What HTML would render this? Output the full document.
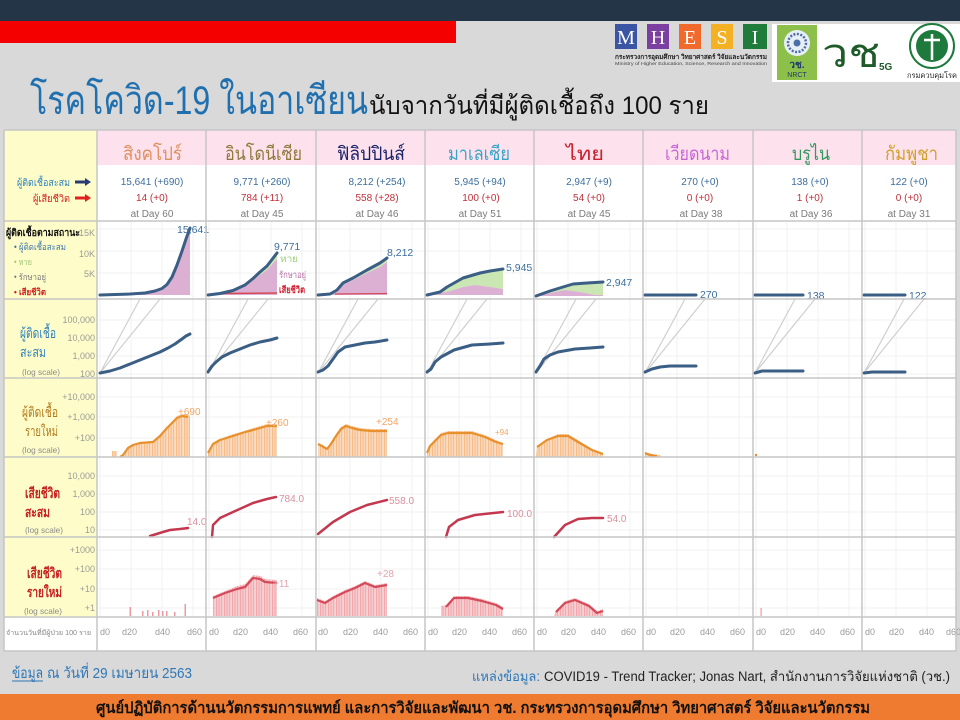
<!DOCTYPE html>
<html><head><meta charset="utf-8"><style>
html,body{margin:0;padding:0;width:960px;height:720px;overflow:hidden;background:#d9d9d9}
svg{display:block}
text{font-family:"Liberation Sans","DejaVu Sans",sans-serif}
</style></head><body>
<svg width="960" height="720" viewBox="0 0 960 720" xmlns="http://www.w3.org/2000/svg">
<defs>
<pattern id="ob" x="0" y="0" width="1.6" height="20" patternUnits="userSpaceOnUse"><rect width="1.15" height="20" fill="#f6bb86"/></pattern>
<pattern id="pb" x="0" y="0" width="1.6" height="20" patternUnits="userSpaceOnUse"><rect width="1.15" height="20" fill="#f1a5aa"/></pattern>
</defs>
<rect width="960" height="720" fill="#d9d9d9"/>
<rect width="960" height="21" fill="#243548"/>
<rect y="21" width="456" height="22" fill="#f50000"/>

<!-- MHESI logo -->
<rect x="615" y="24" width="22" height="25" fill="#3b55a5"/>
<rect x="647" y="24" width="22" height="25" fill="#7b3fa1"/>
<rect x="679" y="24" width="22" height="25" fill="#f26a2b"/>
<rect x="711" y="24" width="22" height="25" fill="#f4b124"/>
<rect x="743" y="24" width="24" height="25" fill="#1f7c3b"/>
<g fill="#fff" font-size="20" text-anchor="middle">
<text x="626" y="44" style="font-family:'Liberation Serif',serif">M</text>
<text x="658" y="44" style="font-family:'Liberation Serif',serif">H</text>
<text x="690" y="44" style="font-family:'Liberation Serif',serif">E</text>
<text x="722" y="44" style="font-family:'Liberation Serif',serif">S</text>
<text x="755" y="44" style="font-family:'Liberation Serif',serif">I</text>
</g>
<text x="615" y="59" font-size="6.5" font-weight="bold" fill="#222" textLength="152" lengthAdjust="spacingAndGlyphs">กระทรวงการอุดมศึกษา วิทยาศาสตร์ วิจัยและนวัตกรรม</text>
<text x="615" y="65" font-size="4.5" fill="#444" textLength="152" lengthAdjust="spacingAndGlyphs">Ministry of Higher Education, Science, Research and Innovation</text>

<rect x="772" y="24" width="188" height="58" fill="#fff"/>
<rect x="777" y="25" width="40" height="55" fill="#8cc04b"/>
<circle cx="797" cy="43" r="13" fill="#e8eef5"/>
<circle cx="797" cy="43" r="9" fill="none" stroke="#4a6ea8" stroke-width="2.5" stroke-dasharray="2 1.5"/>
<circle cx="797" cy="43" r="3.5" fill="#4a6ea8"/>
<text x="797" y="68" font-size="10" font-weight="bold" fill="#1d3b6b" text-anchor="middle">วช.</text>
<text x="797" y="77" font-size="7" fill="#1d3b6b" text-anchor="middle">NRCT</text>
<text x="822" y="67" font-size="40" fill="#1f5a2a" textLength="58" lengthAdjust="spacingAndGlyphs">วช</text>
<text x="879" y="70" font-size="10" font-weight="bold" fill="#1f5a2a">5G</text>
<circle cx="932" cy="46" r="22" fill="#fff" stroke="#1d7a3c" stroke-width="2"/>
<circle cx="932" cy="46" r="16" fill="#1d7a3c"/>
<path d="M932,34 L932,60 M924,40 L940,40" stroke="#fff" stroke-width="2.5"/>
<text x="932" y="78" font-size="7.5" fill="#222" text-anchor="middle" textLength="50" lengthAdjust="spacingAndGlyphs">กรมควบคุมโรค</text>

<!-- Title -->
<text x="30" y="114" font-size="40" fill="#2070b0" textLength="338" lengthAdjust="spacingAndGlyphs">โรคโควิด-19 ในอาเซียน</text>
<text x="369" y="114" font-size="25" fill="#111" textLength="340" lengthAdjust="spacingAndGlyphs">นับจากวันที่มีผู้ติดเชื้อถึง 100 ราย</text>

<!-- Table backgrounds -->
<rect x="4" y="130" width="952" height="521" fill="#fff"/>
<rect x="4" y="130" width="93" height="487" fill="#fefdc9"/>
<rect x="97" y="130" width="859" height="35" fill="#fde1ed"/>

<!-- faint grid -->
<g stroke="#ededed" stroke-width="0.8">
<path d="M100,221V617M131,221V617M162,221V617M193,221V617
M209,221V617M240,221V617M271,221V617M302,221V617
M319,221V617M350,221V617M381,221V617M412,221V617
M428,221V617M459,221V617M490,221V617M521,221V617
M537,221V617M568,221V617M599,221V617M630,221V617
M646,221V617M677,221V617M708,221V617M739,221V617
M756,221V617M787,221V617M818,221V617M849,221V617
M865,221V617M896,221V617M927,221V617"/>
<path d="M97,229H956M97,251H956M97,273H956M97,320H956M97,338H956M97,356H956M97,374H956M97,397H956M97,417H956M97,438H956M97,476H956M97,494H956M97,512H956M97,530H956M97,550H956M97,569H956M97,589H956M97,608H956"/>
</g>

<!-- Country headers -->
<g font-size="19" text-anchor="middle">
<text x="152.5" y="160" fill="#e0905e" textLength="59" lengthAdjust="spacingAndGlyphs">สิงคโปร์</text>
<text x="263.5" y="160" fill="#8c7a3c" textLength="77" lengthAdjust="spacingAndGlyphs">อินโดนีเซีย</text>
<text x="371" y="160" fill="#1c2468" textLength="68" lengthAdjust="spacingAndGlyphs">ฟิลิปปินส์</text>
<text x="479" y="160" fill="#36a6c8" textLength="62" lengthAdjust="spacingAndGlyphs">มาเลเซีย</text>
<text x="585" y="160" fill="#c8202c" textLength="38" lengthAdjust="spacingAndGlyphs">ไทย</text>
<text x="697.5" y="160" fill="#c866d8" textLength="65" lengthAdjust="spacingAndGlyphs">เวียดนาม</text>
<text x="811" y="160" fill="#2e9a5e" textLength="38" lengthAdjust="spacingAndGlyphs">บรูไน</text>
<text x="911.5" y="160" fill="#d0a22a" textLength="53" lengthAdjust="spacingAndGlyphs">กัมพูชา</text>
</g>

<!-- data rows -->
<g font-size="10" text-anchor="middle">
<g fill="#3c6e9c">
<text x="152" y="185">15,641 (+690)</text>
<text x="262" y="185">9,771 (+260)</text>
<text x="377" y="185">8,212 (+254)</text>
<text x="480" y="185">5,945 (+94)</text>
<text x="589" y="185">2,947 (+9)</text>
<text x="700" y="185">270 (+0)</text>
<text x="810" y="185">138 (+0)</text>
<text x="909" y="185">122 (+0)</text>
</g>
<g fill="#c0303a">
<text x="152" y="201">14 (+0)</text>
<text x="262" y="201">784 (+11)</text>
<text x="377" y="201">558 (+28)</text>
<text x="481" y="201">100 (+0)</text>
<text x="589" y="201">54 (+0)</text>
<text x="700" y="201">0 (+0)</text>
<text x="810" y="201">1 (+0)</text>
<text x="909" y="201">0 (+0)</text>
</g>
<g fill="#7a7a7a">
<text x="152" y="217">at Day 60</text>
<text x="262" y="217">at Day 45</text>
<text x="377" y="217">at Day 46</text>
<text x="480" y="217">at Day 51</text>
<text x="589" y="217">at Day 45</text>
<text x="701" y="217">at Day 38</text>
<text x="811" y="217">at Day 36</text>
<text x="909" y="217">at Day 31</text>
</g>
</g>

<!-- left header labels -->
<text x="17" y="186" font-size="10" fill="#2f82bd" textLength="53" lengthAdjust="spacingAndGlyphs">ผู้ติดเชื้อสะสม</text>
<path d="M75,182H86" stroke="#2b3b73" stroke-width="3"/><path d="M85,178L91,182L85,186Z" fill="#2b3b73"/>
<text x="33" y="202" font-size="10" fill="#d42222" textLength="37" lengthAdjust="spacingAndGlyphs">ผู้เสียชีวิต</text>
<path d="M75,198H86" stroke="#e02020" stroke-width="3"/><path d="M85,194L91,198L85,202Z" fill="#e02020"/>

<!-- Row 1 labels -->
<text x="6" y="236" font-size="10" font-weight="bold" fill="#111" textLength="74" lengthAdjust="spacingAndGlyphs">ผู้ติดเชื้อตามสถานะ</text>
<text x="14" y="250" font-size="9" fill="#3b74a8" textLength="52" lengthAdjust="spacingAndGlyphs">• ผู้ติดเชื้อสะสม</text>
<text x="14" y="265" font-size="9" fill="#a0c878" textLength="18" lengthAdjust="spacingAndGlyphs">• หาย</text>
<text x="14" y="280" font-size="9" fill="#7a7a7a" textLength="32" lengthAdjust="spacingAndGlyphs">• รักษาอยู่</text>
<text x="14" y="295" font-size="9" font-weight="bold" fill="#d02020" textLength="32" lengthAdjust="spacingAndGlyphs">• เสียชีวิต</text>
<g font-size="9" fill="#9a9a9a" text-anchor="end">
<text x="95" y="236">15K</text><text x="95" y="257">10K</text><text x="95" y="277">5K</text>
<text x="95" y="323">100,000</text><text x="95" y="341">10,000</text><text x="95" y="359">1,000</text><text x="95" y="377">100</text>
<text x="95" y="400">+10,000</text><text x="95" y="420">+1,000</text><text x="95" y="441">+100</text>
<text x="95" y="479">10,000</text><text x="95" y="497">1,000</text><text x="95" y="515">100</text><text x="95" y="533">10</text>
<text x="95" y="553">+1000</text><text x="95" y="572">+100</text><text x="95" y="592">+10</text><text x="95" y="611">+1</text>
</g>

<!-- Row 2-5 labels -->
<text x="20" y="338" font-size="14" fill="#2f82bd" textLength="36" lengthAdjust="spacingAndGlyphs">ผู้ติดเชื้อ</text>
<text x="20" y="357" font-size="14" fill="#2f82bd" textLength="26" lengthAdjust="spacingAndGlyphs">สะสม</text>
<text x="22" y="375" font-size="8.5" fill="#8a8a8a" textLength="38" lengthAdjust="spacingAndGlyphs">(log scale)</text>

<text x="22" y="417" font-size="14" fill="#b27a1e" textLength="36" lengthAdjust="spacingAndGlyphs">ผู้ติดเชื้อ</text>
<text x="25" y="436" font-size="14" fill="#b27a1e" textLength="33" lengthAdjust="spacingAndGlyphs">รายใหม่</text>
<text x="22" y="453" font-size="8.5" fill="#8a8a8a" textLength="38" lengthAdjust="spacingAndGlyphs">(log scale)</text>

<text x="25" y="498" font-size="14" font-weight="bold" fill="#c62020" textLength="35" lengthAdjust="spacingAndGlyphs">เสียชีวิต</text>
<text x="25" y="517" font-size="14" font-weight="bold" fill="#c62020" textLength="25" lengthAdjust="spacingAndGlyphs">สะสม</text>
<text x="25" y="533" font-size="8.5" fill="#8a8a8a" textLength="38" lengthAdjust="spacingAndGlyphs">(log scale)</text>

<text x="27" y="578" font-size="14" font-weight="bold" fill="#c62020" textLength="35" lengthAdjust="spacingAndGlyphs">เสียชีวิต</text>
<text x="27" y="597" font-size="14" font-weight="bold" fill="#c62020" textLength="35" lengthAdjust="spacingAndGlyphs">รายใหม่</text>
<text x="24" y="614" font-size="8.5" fill="#8a8a8a" textLength="38" lengthAdjust="spacingAndGlyphs">(log scale)</text>

<text x="6" y="635" font-size="7" fill="#888" textLength="85" lengthAdjust="spacingAndGlyphs">จำนวนวันที่มีผู้ป่วย 100 ราย</text>

<!-- ROW 1: stacked areas -->
<g>
<path d="M100,295 L115,294.5 L130,294 L145,293 L155,291 L162,288.5 L167,284.5 L172,277 L177,265 L182,251 L186,239 L190,228 L190,295 Z" fill="#dbb0d2"/>
<path d="M208,295 L220,293.5 L233,290.5 L245,285 L253,278.5 L260,272 L267,266 L277,253 L277,259 L267,270 L260,275 L253,280 L245,286 L233,291 L220,294 L208,295 Z" fill="#c9e6b3"/>
<path d="M208,295 L220,294 L233,291 L245,286 L253,280 L260,275 L267,270 L277,259 L277,295 Z" fill="#dbb0d2"/>
<path d="M222,293.5 L277,293" stroke="#d44a5a" stroke-width="1.5" fill="none"/>
<path d="M318,295 L330,294 L337,290 L343,283 L353,278 L367,270 L380,263 L387,258 L387,262 L380,267 L367,273 L353,280 L343,285 L337,291 L330,294.5 L318,295 Z" fill="#c9e6b3"/>
<path d="M318,295 L330,294.5 L337,291 L343,285 L353,280 L367,273 L380,267 L387,262 L387,295 Z" fill="#dbb0d2"/>
<path d="M335,294 L387,293.5" stroke="#d44a5a" stroke-width="1.2" fill="none"/>
<path d="M427,295 L440,292 L447,287 L463,278 L480,273 L490,271 L503,269 L503,289 L490,287 L475,285 L463,287 L447,292 L427,295 Z" fill="#c9e6b3"/>
<path d="M427,295 L447,292 L463,287 L475,285 L490,287 L503,289 L503,295 Z" fill="#dbb0d2"/>
<path d="M536,296 L550,291 L563,287 L573,284 L587,283 L603,282 L603,295 L595,295 L580,292 L565,290 L555,292 L536,296 Z" fill="#c9e6b3"/>
<path d="M536,296 L555,292 L565,290 L580,292 L595,295 L603,295 L603,296 Z" fill="#dbb0d2"/>
<g fill="none" stroke="#3a5e84" stroke-width="3" stroke-linejoin="round" stroke-linecap="round">
<path d="M100,295 L115,294.5 L130,294 L145,293 L155,291 L162,288.5 L167,284.5 L172,277 L177,265 L182,251 L186,239 L190,228"/>
<path d="M208,295 L220,293.5 L233,290.5 L245,285 L253,278.5 L260,272 L267,266 L277,253"/>
<path d="M318,295 L330,294 L337,290 L343,283 L353,278 L367,270 L380,263 L387,258"/>
<path d="M427,295 L440,292 L447,287 L463,278 L480,273 L490,271 L503,269"/>
<path d="M536,296 L550,291 L563,287 L573,284 L587,283 L603,282"/>
<path d="M645,295 L696,295"/>
<path d="M755,295 L803,295"/>
<path d="M864,295 L905,295"/>
</g>
<g font-size="10.5" fill="#3a6e9e">
<text x="177" y="233">15,641</text>
<text x="274" y="250">9,771</text>
<text x="387" y="256">8,212</text>
<text x="506" y="271">5,945</text>
<text x="606" y="286">2,947</text>
<text x="700" y="298">270</text>
<text x="807" y="299">138</text>
<text x="909" y="299">122</text>
</g>
<text x="280" y="262" font-size="9.5" fill="#9ccc7a" textLength="18" lengthAdjust="spacingAndGlyphs">หาย</text>
<text x="279" y="278" font-size="9.5" fill="#b774a8" textLength="27" lengthAdjust="spacingAndGlyphs">รักษาอยู่</text>
<text x="279" y="293" font-size="9.5" font-weight="bold" fill="#d02030" textLength="26" lengthAdjust="spacingAndGlyphs">เสียชีวิต</text>
</g>

<!-- ROW 2: log cumulative -->
<g stroke="#cfcfcf" stroke-width="1.2" fill="none">
<path d="M100,373L140,299M100,373L160,299"/>
<path d="M208,373L248,299M208,373L268,299"/>
<path d="M318,373L358,299M318,373L378,299"/>
<path d="M427,373L467,299M427,373L487,299"/>
<path d="M536,373L576,299M536,373L596,299"/>
<path d="M645,373L685,299M645,373L705,299"/>
<path d="M755,373L795,299M755,373L815,299"/>
<path d="M864,373L904,299M864,373L924,299"/>
</g>
<g fill="none" stroke="#3a5e84" stroke-width="3" stroke-linejoin="round" stroke-linecap="round">
<path d="M100,373 L110,371 L120,368 L130,364 L140,360 L150,356 L160,352 L168,348 L175,344 L182,339 L186,336 L190,334"/>
<path d="M208,372 L212,366 L216,362 L222,357 L230,353 L240,349 L250,345 L260,342 L270,340 L277,338"/>
<path d="M318,372 L323,370 L328,366 L333,359 L338,352 L345,347 L355,345 L365,343 L375,342 L387,340"/>
<path d="M427,372 L431,369 L435,362 L441,357 L454,350 L472,345 L490,344 L503,343"/>
<path d="M536,372 L540,366 L544,359 L550,355 L558,352 L575,349 L590,348 L603,347"/>
<path d="M645,372 L652,369 L660,367 L670,366 L696,366"/>
<path d="M755,373 L762,371 L803,371"/>
<path d="M864,373 L872,372 L905,372"/>
</g>

<!-- ROW 3: daily new cases -->
<g fill="url(#ob)">
<path d="M112,457 L112,451 L117,451 L117,457 Z"/>
<path d="M119,457 L123,454 L128,447 L133,444 L140,442 L153,441 L160,435 L167,427 L177,416 L182,414 L188,414 L190,416 L190,457 Z"/>
<path d="M208,457 L208,452 L213,443 L220,439 L233,434 L245,431 L253,428 L267,424 L277,424 L277,457 Z"/>
<path d="M318,457 L318,443 L322,445 L327,448 L331,442 L336,434 L341,427 L346,424 L352,426 L360,428 L372,429 L387,429 L387,457 Z"/>
<path d="M427,457 L427,452 L430,445 L434,440 L441,433 L448,431 L472,431 L485,435 L496,440 L503,443 L503,457 Z"/>
<path d="M536,457 L537,446 L547,439 L558,434 L568,434 L578,440 L592,449 L603,453 L603,457 Z"/>
<path d="M645,457 L645,452 L652,454 L660,455 L662,457 Z"/>
</g>
<g fill="none" stroke="#e8902c" stroke-width="2.2" stroke-linejoin="round">
<path d="M120,457 L123,455 L128,448 L133,445 L140,443 L153,442 L160,436 L167,428 L177,418 L182,416 L188,417"/>
<path d="M208,453 L213,444 L220,440 L233,436 L245,432 L253,430 L267,426 L277,426"/>
<path d="M318,444 L322,446 L327,449 L331,444 L336,436 L341,429 L346,426 L352,428 L360,430 L372,431 L387,431"/>
<path d="M427,453 L430,446 L434,442 L441,435 L448,433 L472,433 L485,437 L496,442 L503,444"/>
<path d="M537,447 L547,440 L558,436 L568,436 L578,442 L592,450 L603,454"/>
<path d="M645,453 L650,455 L657,456"/>
</g>
<circle cx="756" cy="455" r="1.2" fill="#e8902c"/>
<g font-size="10" fill="#f2a565">
<text x="178" y="415">+690</text>
<text x="266" y="426">+260</text>
<text x="376" y="425">+254</text>
<text x="495" y="435" font-size="8">+94</text>
</g>

<!-- ROW 4: cumulative deaths -->
<g fill="none" stroke="#c4384f" stroke-width="2.5" stroke-linejoin="round" stroke-linecap="round">
<path d="M150,536 L163,532 L170,530 L180,529 L188,528"/>
<path d="M212,537 L213,525 L220,518 L233,512 L253,503 L267,499 L276,497"/>
<path d="M318,534 L323,530 L333,522 L350,512 L367,505 L387,500"/>
<path d="M446,537 L449,527 L458,520 L475,515 L503,512"/>
<path d="M554,537 L565,525 L578,519 L592,518 L603,518"/>
</g>
<g font-size="10" fill="#d9909c">
<text x="187" y="525">14.0</text>
<text x="279" y="502">784.0</text>
<text x="389" y="504">558.0</text>
<text x="507" y="517">100.0</text>
<text x="607" y="522">54.0</text>
</g>

<!-- ROW 5: daily deaths -->
<g fill="#ec9aa0">
<rect x="129.5" y="607" width="1.5" height="9"/>
<rect x="142" y="611" width="1.5" height="5"/>
<rect x="147" y="610" width="1.5" height="6"/>
<rect x="152" y="612" width="1.5" height="4"/>
<rect x="158" y="610" width="1.5" height="6"/>
<rect x="162" y="611" width="1.5" height="5"/>
<rect x="166" y="611" width="1.5" height="5"/>
<rect x="174" y="612" width="1.5" height="4"/>
<rect x="184.5" y="604" width="1.5" height="12"/>
<rect x="760.5" y="608" width="1.2" height="8"/>
</g>
<g fill="url(#pb)">
<path d="M213,616 L213,596 L225,591 L237,586 L245,584 L253,575 L260,576 L265,579 L277,580 L277,616 Z"/>
<path d="M317,616 L317,598 L325,601 L333,596 L345,590 L355,586 L365,581 L375,585 L387,583 L387,616 Z"/>
<path d="M441,616 L441,606 L446,605 L454,596 L468,596 L482,599 L496,603 L503,607 L503,616 Z"/>
<path d="M554,616 L556,610 L565,601 L575,598 L589,604 L597,611 L603,609 L603,616 Z"/>
</g>
<g fill="none" stroke="#d44a5a" stroke-width="2.2" stroke-linejoin="round">
<path d="M213,598 L225,593 L237,589 L245,587 L253,578 L260,579 L265,582 L277,583"/>
<path d="M317,600 L325,603 L333,598 L345,592 L355,588 L365,583 L375,587 L387,585"/>
<path d="M446,607 L454,598 L468,598 L482,601 L496,605 L503,609"/>
<path d="M556,612 L565,603 L575,600 L589,606 L597,613 L603,611"/>
</g>
<g font-size="10" fill="#e4a4ae">
<text x="273" y="587">+11</text>
<text x="377" y="577">+28</text>
</g>

<!-- axis row -->
<g font-size="9" fill="#9a9a9a">
<text x="100" y="635">d0</text><text x="122" y="635">d20</text><text x="155" y="635">d40</text><text x="187" y="635">d60</text>
<text x="209" y="635">d0</text><text x="233" y="635">d20</text><text x="263" y="635">d40</text><text x="293" y="635">d60</text>
<text x="318" y="635">d0</text><text x="343" y="635">d20</text><text x="373" y="635">d40</text><text x="403" y="635">d60</text>
<text x="428" y="635">d0</text><text x="452" y="635">d20</text><text x="482" y="635">d40</text><text x="512" y="635">d60</text>
<text x="537" y="635">d0</text><text x="561" y="635">d20</text><text x="591" y="635">d40</text><text x="621" y="635">d60</text>
<text x="646" y="635">d0</text><text x="670" y="635">d20</text><text x="700" y="635">d40</text><text x="730" y="635">d60</text>
<text x="756" y="635">d0</text><text x="780" y="635">d20</text><text x="810" y="635">d40</text><text x="840" y="635">d60</text>
<text x="865" y="635">d0</text><text x="889" y="635">d20</text><text x="919" y="635">d40</text><text x="946" y="635">d60</text>
</g>

<!-- table borders -->
<g stroke="#c6c6c6" stroke-width="1.5" fill="none">
<path d="M4,130H956M4,221H956M4,299H956M4,378H956M4,457H956M4,537H956M4,617H956M4,651H956"/>
<path d="M4,130V651M97,130V651M206,130V651M316,130V651M425,130V651M534,130V651M643,130V651M753,130V651M862,130V651M956,130V651"/>
</g>

<!-- footer -->
<text x="12" y="678" font-size="15" fill="#2f78b8" textLength="31" lengthAdjust="spacingAndGlyphs">ข้อมูล</text>
<path d="M12,681H43" stroke="#2f78b8" stroke-width="1"/>
<text x="47" y="678" font-size="15" fill="#2f78b8" textLength="145" lengthAdjust="spacingAndGlyphs">ณ วันที่ 29 เมษายน 2563</text>
<text x="472" y="681" font-size="13.5" fill="#2f78b8" textLength="68" lengthAdjust="spacingAndGlyphs">แหล่งข้อมูล:</text>
<text x="544" y="681" font-size="13.5" fill="#222" textLength="406" lengthAdjust="spacingAndGlyphs">COVID19 - Trend Tracker; Jonas Nart, สำนักงานการวิจัยแห่งชาติ (วช.)</text>

<rect x="0" y="694" width="960" height="26" fill="#ee7b30"/>
<text x="96" y="713" font-size="15.5" font-weight="bold" fill="#111" textLength="774" lengthAdjust="spacingAndGlyphs">ศูนย์ปฏิบัติการด้านนวัตกรรมการแพทย์ และการวิจัยและพัฒนา  วช.   กระทรวงการอุดมศึกษา วิทยาศาสตร์ วิจัยและนวัตกรรม</text>
</svg>
</body></html>
